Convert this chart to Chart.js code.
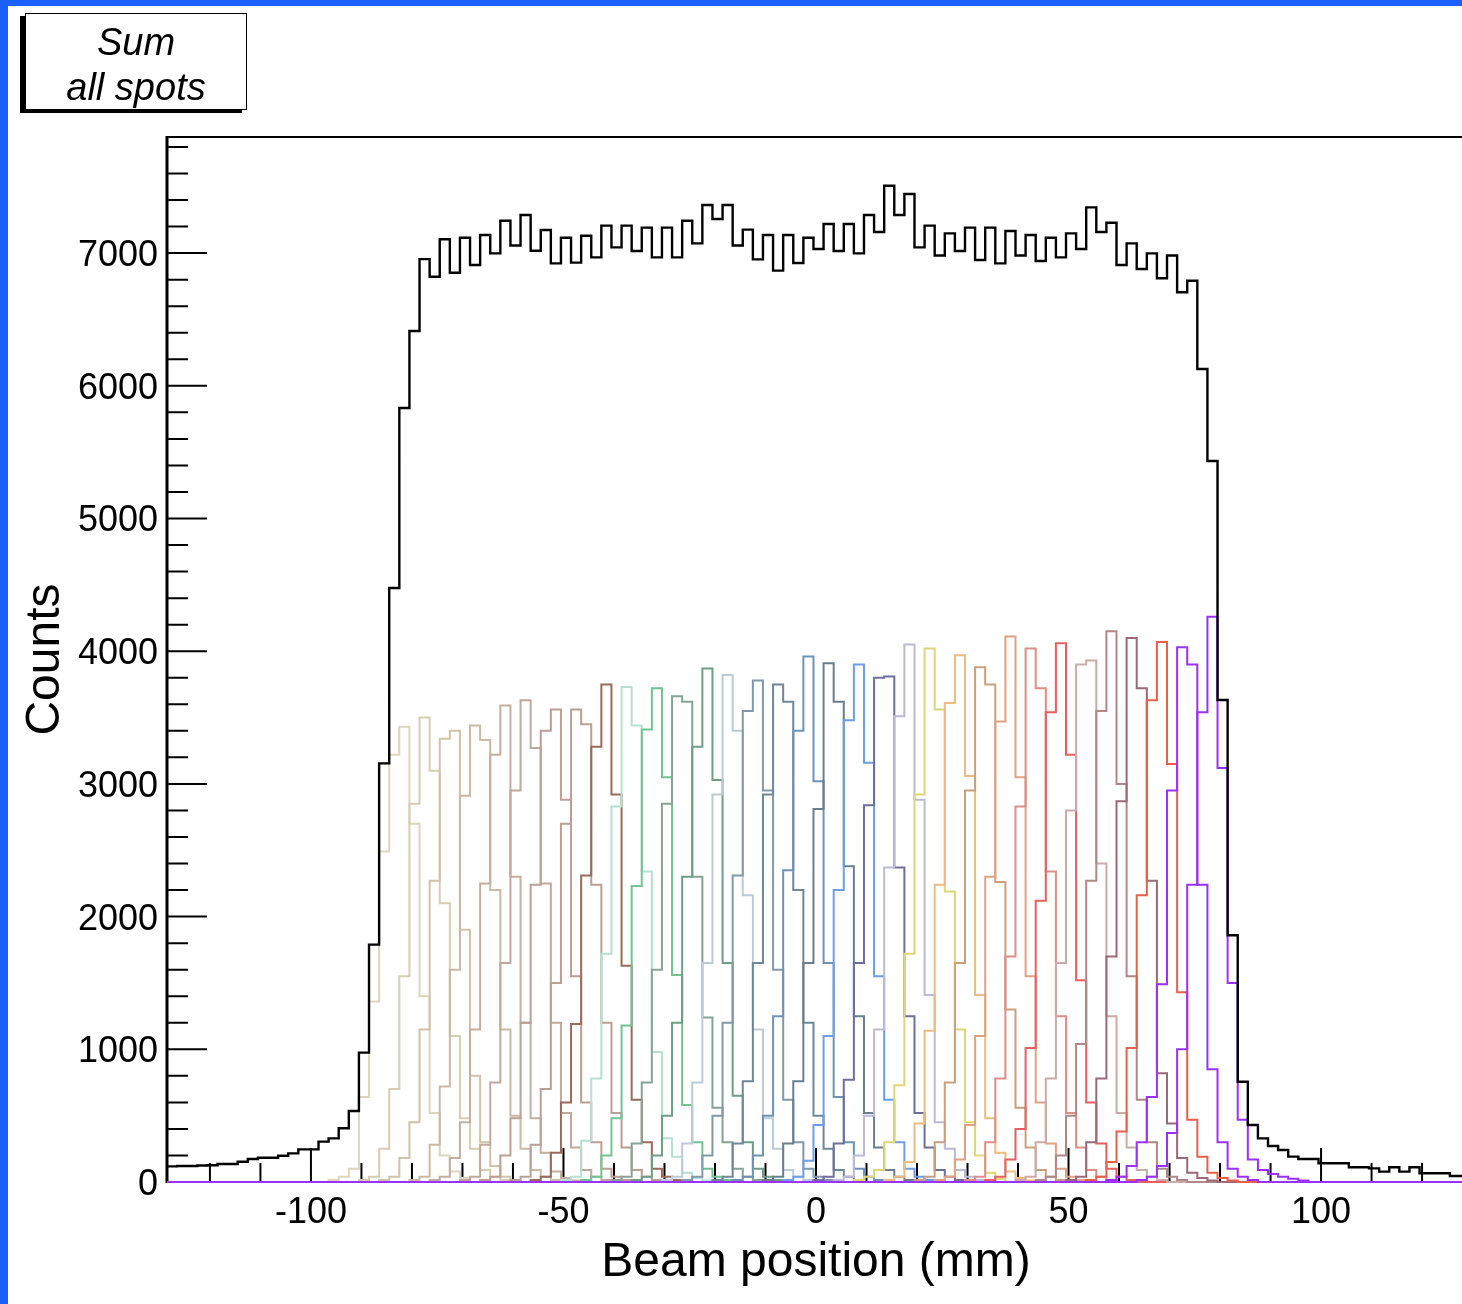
<!DOCTYPE html>
<html>
<head>
<meta charset="utf-8">
<script src="https://cdn.jsdelivr.net/npm/chart.js"></script>
<style>
  html, body { margin: 0; padding: 0; width: 1462px; height: 1304px; overflow: hidden; background: #1b60fb; }
  #sheet { position: absolute; left: 8px; top: 6px; width: 1480px; height: 1320px; background: #fff; }
  #graph { position: absolute; left: 0; top: 0; }
  #sumBox {
    position: absolute; left: 25px; top: 13px; width: 222px; height: 97px; box-sizing: border-box;
    border: 1.5px solid #000; background: #fff; box-shadow: -5px 3px 0 #000;
    font: italic 38px "Liberation Sans", Arial, sans-serif; text-align: center;
    line-height: 45px; padding-top: 6px; color: #000;
  }
</style>
</head>
<body>
<div id="sheet"></div>
<canvas id="graph" width="1466" height="1304"></canvas>
<div id="sumBox">Sum<br>all spots</div>
<script>
// histogram binning (mm)
const binLow = -128.5;
const binWidth = 2;
const nBins = 129;

// tick labels
const xTickLabels = [-100, -50, 0, 50, 100];
const yTickLabels = [0, 1000, 2000, 3000, 4000, 5000, 6000, 7000];

// sum of all spots, one value per bin starting at binLow
const sumCounts = [
  118, 121, 121, 124, 126, 136, 136, 153, 173, 183,
  183, 198, 216, 246, 246, 304, 329, 405, 535, 975,
  1789, 3155, 4476, 5833, 6413, 6955, 6822, 7104, 6852, 7116,
  6910, 7136, 6998, 7244, 7057, 7287, 7018, 7174, 6923, 7116,
  6928, 7131, 6968, 7207, 7043, 7207, 7016, 7192, 6968, 7192,
  6968, 7244, 7073, 7362, 7257, 7362, 7057, 7177, 6953, 7136,
  6868, 7136, 6925, 7116, 7031, 7219, 7016, 7219, 6998, 7287,
  7159, 7508, 7287, 7445, 7043, 7207, 6982, 7149, 7016, 7192,
  6948, 7192, 6923, 7167, 6982, 7136, 6941, 7116, 6968, 7149,
  7031, 7345, 7159, 7229, 6910, 7073, 6880, 6998, 6810, 6982,
  6705, 6792, 6127, 5433, 3632, 1860, 756, 430, 329, 271,
  241, 191, 173, 173, 141, 141, 141, 111, 111, 103,
  78, 111, 78, 111, 66, 66, 66, 45, 45
];

// single spots: index of first filled bin, then the counts
const spotFirstBin = [16, 19, 21, 24, 26, 29, 31, 34, 36, 39, 41, 44, 46, 49, 51, 54, 56,
  59, 61, 64, 66, 68, 71, 74, 76, 79, 81, 84, 86, 89, 91, 93, 96];

const spotCounts = [
  [15, 40, 100, 640, 1360, 2490, 3220, 3430, 2700, 1400, 520, 200, 80, 30],
  [15, 40, 250, 700, 1550, 2850, 3500, 3100, 2100, 1100, 480, 250, 90, 40, 15],
  [15, 40, 180, 450, 1150, 2270, 3340, 3400, 1900, 800, 300, 120, 40, 15],
  [15, 40, 280, 720, 1600, 2910, 3440, 3330, 2200, 1150, 500, 250, 90, 40, 15],
  [15, 40, 180, 450, 1150, 2250, 3220, 3590, 2300, 1200, 480, 220, 80, 30, 12],
  [15, 40, 280, 750, 1650, 2950, 3630, 3270, 2250, 1200, 520, 260, 90, 40, 15],
  [15, 40, 200, 480, 1200, 2240, 3400, 3560, 2880, 1550, 600, 300, 100, 40, 15],
  [15, 40, 280, 700, 1500, 2700, 3560, 3450, 2240, 1200, 520, 260, 90, 40, 15],
  [15, 40, 220, 600, 1190, 2310, 3280, 3750, 2920, 1630, 620, 300, 100, 40, 15],
  [15, 40, 310, 780, 1720, 2830, 3730, 3440, 2340, 980, 330, 190, 70, 30, 12],
  [15, 40, 200, 480, 1180, 2230, 3410, 3720, 3050, 1560, 580, 300, 100, 40, 15],
  [15, 40, 290, 750, 1600, 2850, 3660, 3620, 2300, 1240, 560, 300, 100, 40, 15],
  [15, 40, 200, 500, 1200, 2300, 3280, 3870, 3030, 1650, 650, 300, 100, 40, 15],
  [15, 40, 290, 750, 1650, 2920, 3820, 3400, 2160, 1150, 480, 250, 90, 40, 15],
  [15, 40, 200, 500, 1200, 2310, 3550, 3780, 2950, 1600, 620, 300, 100, 40, 15],
  [15, 40, 290, 760, 1650, 2920, 3750, 3620, 2200, 1200, 500, 250, 90, 40, 15],
  [15, 40, 200, 500, 1250, 2350, 3400, 3960, 3020, 1650, 640, 300, 100, 40, 15],
  [15, 40, 290, 760, 1650, 2810, 3910, 3620, 2380, 1250, 520, 260, 90, 40, 15],
  [15, 40, 160, 430, 1100, 2200, 3480, 3900, 3160, 1550, 620, 300, 100, 40, 15],
  [15, 40, 290, 770, 1650, 2840, 3800, 3810, 2370, 1250, 520, 260, 90, 40, 15],
  [15, 40, 200, 500, 1150, 2370, 3510, 4050, 2880, 1410, 450, 250, 90, 40, 15],
  [15, 40, 90, 300, 730, 1720, 2920, 4020, 3560, 2190, 1150, 450, 200, 70, 25],
  [15, 40, 150, 440, 1140, 2240, 3610, 3970, 3060, 1410, 480, 220, 80, 30, 12],
  [15, 40, 300, 750, 1650, 2950, 3880, 3750, 2260, 1300, 560, 260, 90, 40, 15],
  [15, 40, 170, 430, 1100, 2300, 3470, 4110, 3050, 1550, 600, 290, 100, 40, 15],
  [15, 40, 300, 780, 1700, 2830, 4020, 3720, 2340, 1250, 520, 260, 90, 40, 15],
  [15, 40, 170, 400, 1010, 2120, 3540, 4060, 3220, 1520, 600, 290, 100, 40, 15],
  [15, 40, 300, 780, 1650, 2800, 3900, 3930, 2400, 1250, 520, 260, 90, 40, 15],
  [15, 40, 200, 500, 1040, 2270, 3550, 4150, 3000, 1550, 620, 300, 100, 40, 15],
  [15, 40, 300, 780, 1700, 2870, 4100, 3720, 2270, 820, 440, 180, 70, 30, 12],
  [15, 40, 150, 380, 1010, 2160, 3630, 4070, 3150, 1430, 470, 190, 70, 30, 12],
  [15, 40, 120, 300, 640, 1490, 2950, 4030, 3900, 2240, 850, 300, 100, 40, 15],
  [15, 40, 120, 370, 1000, 2240, 3540, 4260, 3120, 1500, 470, 170, 90, 60, 40, 25, 12]
];

const spotColors = [
  '#dcd6bf', '#d6cdb2', '#cfc3a8', '#cbb9a3', '#c6ae9f', '#c2a89c', '#bb9f96', '#b9a097',
  '#9a6a5a', '#b6e0cf', '#72c293', '#86a495', '#6f9e86', '#bccbd8', '#8399ab', '#6f8899',
  '#6f93b5', '#6a7f8b', '#6e9fe6', '#6e6f9a', '#bcbad8', '#ddd67a', '#efbb80', '#cc9f7c',
  '#e0a282', '#dd8e86', '#e66060', '#cbaaaa', '#b08888', '#9a6a78', '#e8604a', '#9b30ff', '#9b30ff'
];

const fontFamily = '"Liberation Sans", Arial, Helvetica, sans-serif';

// step points on bin edges, empty bins are zero
function histPoints(counts, firstBin) {
  const pts = [];
  for (let k = 0; k < nBins; k++) {
    const i = k - firstBin;
    const c = (i >= 0 && i < counts.length) ? counts[i] : 0;
    pts.push({ x: binLow + k * binWidth, y: c });
  }
  pts.push({ x: binLow + nBins * binWidth, y: pts[pts.length - 1].y });
  return pts;
}

const datasets = [{
  label: 'Sum all spots',
  data: histPoints(sumCounts, 0),
  borderColor: '#000',
  borderWidth: 2.4,
  order: 0
}];
spotCounts.forEach((counts, idx) => {
  datasets.push({
    label: 'spot ' + (idx + 1),
    data: histPoints(counts, spotFirstBin[idx]),
    borderColor: spotColors[idx],
    borderWidth: 2,
    order: spotCounts.length - idx
  });
});
datasets.forEach(ds => {
  ds.stepped = true;
  ds.fill = false;
  ds.pointRadius = 0;
  ds.tension = 0;
  ds.borderJoinStyle = 'miter';
  ds.clip = { left: 0, right: 0, top: 0, bottom: 3 };
});

// ROOT style frame and inward ticks
const rootFrame = {
  id: 'rootFrame',
  beforeDatasetsDraw(chart) {
    const { ctx, chartArea: a, scales: { x, y } } = chart;
    ctx.save();
    ctx.strokeStyle = '#000';
    ctx.lineWidth = 2;
    ctx.beginPath();
    for (let v = -120; v <= 120; v += 10) {
      const px = x.getPixelForValue(v);
      const len = v % 50 === 0 ? 34 : 19;
      ctx.moveTo(px, a.bottom);
      ctx.lineTo(px, a.bottom - len);
    }
    for (let v = 0; v <= 7800; v += 200) {
      const py = y.getPixelForValue(v);
      const len = v % 1000 === 0 ? 40 : 21;
      ctx.moveTo(a.left, py);
      ctx.lineTo(a.left + len, py);
    }
    ctx.moveTo(a.left, a.top);
    ctx.lineTo(a.right + 5, a.top);
    ctx.moveTo(a.left, a.bottom);
    ctx.lineTo(a.right + 5, a.bottom);
    ctx.stroke();
    ctx.lineWidth = 3;
    ctx.beginPath();
    ctx.moveTo(a.left, a.top - 1);
    ctx.lineTo(a.left, a.bottom + 1);
    ctx.stroke();
    ctx.restore();
  }
};

const ctx = document.getElementById('graph').getContext('2d');
new Chart(ctx, {
  type: 'line',
  data: { datasets: datasets },
  options: {
    responsive: false,
    animation: false,
    devicePixelRatio: 1,
    layout: { padding: { top: 137, right: 1, left: 0, bottom: 0 } },
    plugins: { legend: { display: false }, tooltip: { enabled: false } },
    scales: {
      x: {
        type: 'linear',
        min: binLow,
        max: 128.5,
        grid: { display: false, drawTicks: false },
        border: { display: false },
        afterBuildTicks: s => { s.ticks = xTickLabels.map(v => ({ value: v })); },
        afterFit: s => { s.height = 122; },
        ticks: {
          color: '#000', padding: 9, maxRotation: 0, autoSkip: false,
          font: { family: fontFamily, size: 36 },
          callback: v => String(v)
        },
        title: {
          display: true, text: 'Beam position (mm)', color: '#000',
          font: { family: fontFamily, size: 48, lineHeight: 1.2 },
          padding: { top: 0, bottom: 12 }
        }
      },
      y: {
        type: 'linear',
        min: 0,
        max: 7875,
        grid: { display: false, drawTicks: false },
        border: { display: false },
        afterBuildTicks: s => { s.ticks = yTickLabels.map(v => ({ value: v })); },
        afterFit: s => { s.width = 167; },
        ticks: {
          color: '#000', padding: 9, labelOffset: 3,
          font: { family: fontFamily, size: 36 },
          callback: v => String(v)
        },
        title: {
          display: true, text: 'Counts', color: '#000',
          font: { family: fontFamily, size: 48, lineHeight: 1.2 },
          padding: { top: 17, bottom: 0 }
        }
      }
    }
  },
  plugins: [rootFrame]
});
</script>
</body>
</html>
